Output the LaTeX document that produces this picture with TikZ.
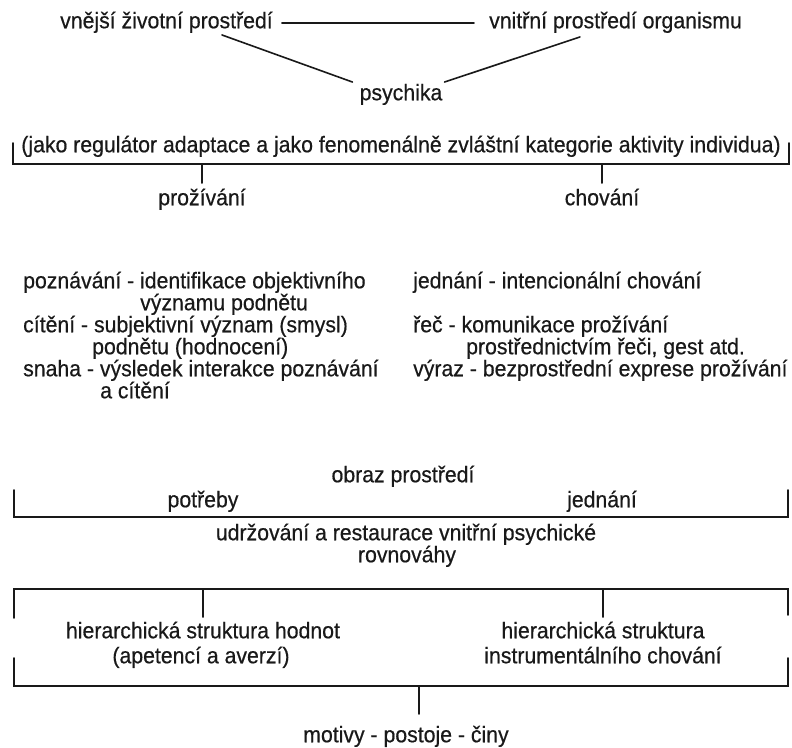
\documentclass[tikz,border=0pt]{standalone}
\usepackage{fontspec}
\setmainfont{Liberation Sans}[FakeStretch=0.94,FakeBold=0.5]
\newcommand\diagfont{\fontsize{22.6}{22}\selectfont}
\begin{document}
\begin{tikzpicture}[x=1pt,y=-1pt,
  every node/.style={font=\diagfont, inner sep=0pt, text height=15pt, text depth=4.5pt, text=black!90},
  ln/.style={line width=1.6pt, line cap=round, black!90},
  lt/.style={anchor=west}]
\useasboundingbox[fill=white] (0,0) rectangle (792,747);

% top triangle
\node[lt] (vn) at (60,23) {vnější životní prostředí};
\node[lt] (vi) at (489,23) {vnitřní prostředí organismu};
\node (psy) at (401,95) {psychika};
\draw[ln] ([xshift=9pt]vn.east) -- ([xshift=-15pt]vi.west);
\draw[ln] ([xshift=-51pt,yshift=-2pt]vn.south east) -- ([xshift=-7pt,yshift=3pt]psy.north west);
\draw[ln] ([xshift=91pt,yshift=-4pt]vi.south west) -- ([xshift=2pt,yshift=3pt]psy.north east);

% first bracket
\node (reg) at (401,147) {(jako regulátor adaptace a jako fenomenálně zvláštní kategorie aktivity individua)};
\coordinate (b1l) at (13,143);
\coordinate (b1r) at (789,143);
\coordinate (b1bar) at (0,164);
\draw[ln] (b1l) -- (b1l |- b1bar) -- (b1r |- b1bar) -- (b1r);
\node (proz) at (202,200) {prožívání};
\node (chov) at (602,200) {chování};
\draw[ln] (proz.north |- b1bar) -- ([yshift=7pt]proz.north);
\draw[ln] (chov.north |- b1bar) -- ([yshift=7pt]chov.north);

% left column
\node[lt] (l1) at (23,283) {poznávání - identifikace objektivního};
\node[lt] (l2) at (140,305) {významu podnětu};
\node[lt] (l3) at (23,327) {cítění - subjektivní význam (smysl)};
\node[lt] (l4) at (92,349) {podnětu (hodnocení)};
\node[lt] (l5) at (23,371) {snaha - výsledek interakce poznávání};
\node[lt] (l6) at (100,393) {a cítění};
% right column
\node[lt] (r1) at (413,283) {jednání - intencionální chování};
\node[lt] (r2) at (413,327) {řeč - komunikace prožívání};
\node[lt] (r3) at (466,349) {prostřednictvím řeči, gest atd.};
\node[lt] (r4) at (413,371) {výraz - bezprostřední exprese prožívání};

% second bracket
\node (obr) at (403,477) {obraz prostředí};
\node (potr) at (203,502) {potřeby};
\node (jedn) at (602,502) {jednání};
\coordinate (b2l) at (14,490);
\coordinate (b2r) at (788,490);
\coordinate (b2bar) at (0,517);
\draw[ln] (b2l) -- (b2l |- b2bar) -- (b2r |- b2bar) -- (b2r);
\node (udr) at (406,535) {udržování a restaurace vnitřní psychické};
\node (rov) at (407,557) {rovnováhy};

% box
\coordinate (tl) at (14,589);
\coordinate (tr) at (788,589);
\coordinate (bl) at (14,686);
\coordinate (br) at (788,686);
\node (h1) at (203,633) {hierarchická struktura hodnot};
\node (h2) at (201,658) {(apetencí a averzí)};
\node (h3) at (603,633) {hierarchická struktura};
\node (h4) at (603,658) {instrumentálního chování};
\draw[ln] ([yshift=-29pt]tl) -- (tl) -- (tr) -- ([yshift=-26pt]tr);
\draw[ln] ([yshift=28pt]bl) -- (bl) -- (br) -- ([yshift=28pt]br);
\draw[ln] (h1.north |- tl) -- ([yshift=6pt]h1.north);
\draw[ln] (h3.north |- tr) -- ([yshift=6pt]h3.north);
\node (mot) at (406,737) {motivy - postoje - činy};
\draw[ln] (419,686) -- (419,714);
\end{tikzpicture}
\end{document}
